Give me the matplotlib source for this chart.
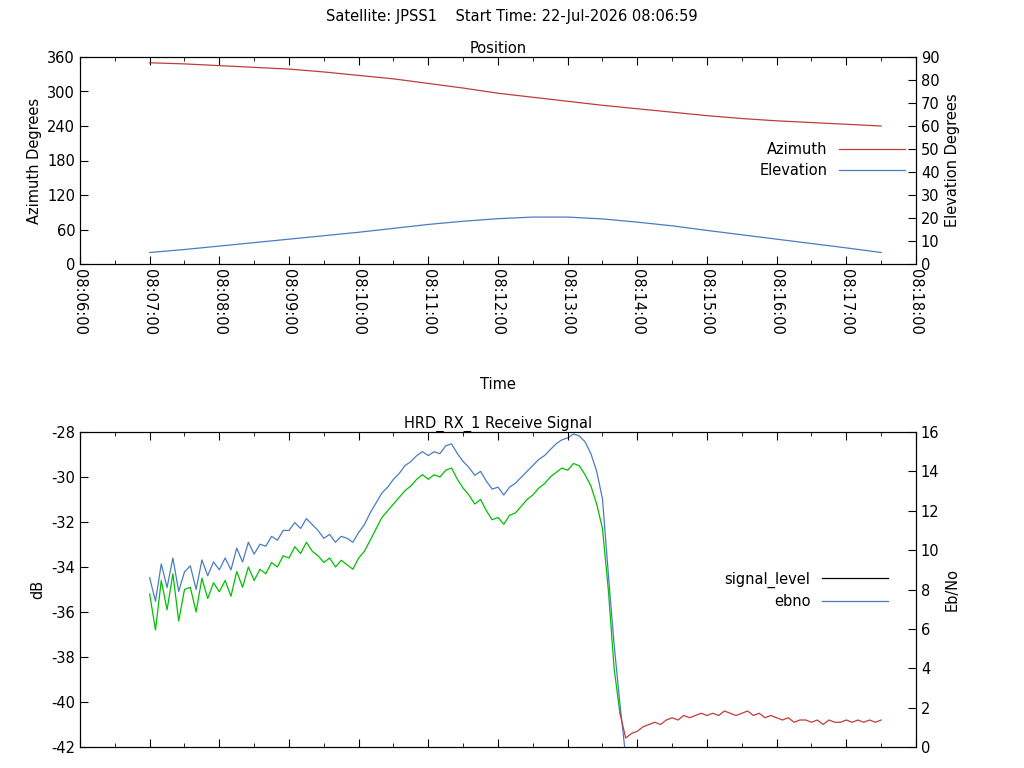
import matplotlib
matplotlib.use("Agg")
import matplotlib.pyplot as plt
import matplotlib.dates as mdates
import datetime as dt

t0 = dt.datetime(2026, 7, 22, 8, 7, 0)
pos_step_s = 30
azimuth = [350, 348, 345, 342, 339, 334, 328, 322, 314, 306, 297, 290, 283, 276,
           270, 264, 258, 253, 249, 246, 243, 240]
elevation = [5.0, 6.3, 7.8, 9.3, 10.8, 12.3, 13.8, 15.5, 17.2, 18.6, 19.7, 20.4,
             20.4, 19.6, 18.2, 16.6, 14.6, 12.7, 10.8, 8.9, 7.0, 5.0]

sig_step_s = 5
signal_level = [
    -35.2, -36.8, -34.6, -35.9, -34.3, -36.4, -35.0, -34.9, -36.0, -34.5, -35.4, -34.7, -35.1,
    -34.6, -35.3, -34.2, -34.9, -34.0, -34.6, -34.1, -34.3, -33.8, -34.0, -33.5, -33.6,
    -33.1, -33.4, -32.9, -33.3, -33.5, -33.8, -33.6, -34.0, -33.7, -33.9, -34.1, -33.6,
    -33.3, -32.8, -32.3, -31.8, -31.5, -31.2, -30.9, -30.6, -30.4, -30.1, -29.9, -30.1,
    -29.9, -30.0, -29.7, -29.6, -30.1, -30.5, -30.8, -31.2, -31.0, -31.5, -31.9, -31.8,
    -32.1, -31.7, -31.6, -31.3, -31.0, -30.8, -30.5, -30.3, -30.0, -29.8, -29.6, -29.7,
    -29.4, -29.5, -29.9, -30.4, -31.2, -32.3, -35.0, -38.5, -40.5, -41.6, -41.4, -41.3,
    -41.1, -41.0, -40.9, -41.0, -40.8, -40.7, -40.8, -40.6, -40.7, -40.6, -40.5, -40.6,
    -40.5, -40.6, -40.4, -40.5, -40.6, -40.5, -40.4, -40.6, -40.5, -40.7, -40.6, -40.7,
    -40.8, -40.7, -40.9, -40.8, -40.8, -40.9, -40.8, -41.0, -40.8, -40.9, -40.9, -40.8,
    -40.9, -40.8, -40.9, -40.8, -40.9, -40.8]
lock_count = 82  # samples drawn green (locked), the rest red
ebno = [
    8.6, 7.4, 9.3, 8.1, 9.6, 7.9, 8.9, 9.2, 8.0, 9.5, 8.7, 9.4, 9.0,
    9.6, 9.0, 10.1, 9.4, 10.4, 9.8, 10.3, 10.2, 10.7, 10.5, 11.0, 11.0,
    11.4, 11.1, 11.6, 11.3, 11.0, 10.6, 10.8, 10.4, 10.7, 10.6, 10.4, 10.9,
    11.3, 11.9, 12.4, 12.9, 13.2, 13.6, 13.9, 14.3, 14.5, 14.8, 15.0, 14.8,
    15.0, 14.9, 15.3, 15.4, 14.9, 14.5, 14.2, 13.8, 14.0, 13.5, 13.1, 13.2,
    12.8, 13.2, 13.4, 13.7, 14.0, 14.3, 14.6, 14.8, 15.1, 15.4, 15.6, 15.7,
    15.9, 15.8, 15.5, 14.9, 14.0, 12.6, 8.8, 5.2, 2.2, -0.5]

pos_t = [t0 + dt.timedelta(seconds=i * pos_step_s) for i in range(len(azimuth))]
sig_t = [t0 + dt.timedelta(seconds=i * sig_step_s) for i in range(len(signal_level))]
eb_t = [t0 + dt.timedelta(seconds=i * sig_step_s) for i in range(len(ebno))]

xmin = dt.datetime(2026, 7, 22, 8, 6, 0)
xmax = dt.datetime(2026, 7, 22, 8, 18, 0)

RED = "#c03c3c"
BLUE = "#4a7cc0"
GREEN = "#00c000"
plt.rcParams["font.family"] = "DejaVu Sans"
plt.rcParams["font.size"] = 10.5
plt.rcParams["axes.unicode_minus"] = False

fig = plt.figure(figsize=(10.24, 7.68), dpi=100)
W, H = 1024, 768
def rect(l, t, r, b):
    return [l / W, 1 - b / H, (r - l) / W, (b - t) / H]

fig.text(0.5, 1 - 17 / H, "Satellite: JPSS1    Start Time: 22-Jul-2026 08:06:59",
         ha="center", va="center", fontsize=10.5)

def style(ax):
    ax.tick_params(direction="in", which="both", top=True, length=6)
    ax.tick_params(which="minor", length=3)

# Top plot
ax1 = fig.add_axes(rect(80, 57, 916, 264))
ax1b = ax1.twinx()
l1, = ax1.plot(pos_t, azimuth, color=RED, lw=0.9)
l2, = ax1b.plot(pos_t, elevation, color=BLUE, lw=0.9)
ax1.set_xlim(xmin, xmax)
ax1.set_ylim(0, 360)
ax1.set_yticks(range(0, 361, 60))
ax1b.set_ylim(0, 90)
ax1b.set_yticks(range(0, 91, 10))
ax1.xaxis.set_major_locator(mdates.MinuteLocator())
ax1.xaxis.set_minor_locator(mdates.SecondLocator(bysecond=[30]))
ax1.xaxis.set_major_formatter(mdates.DateFormatter("%H:%M:%S"))
for lab in ax1.get_xticklabels():
    lab.set_rotation(-90)
ax1.set_title("Position", fontsize=10.5, pad=3)
ax1.set_ylabel("Azimuth Degrees")
ax1b.set_ylabel("Elevation Degrees")
ax1.set_xlabel("Time", labelpad=30)
style(ax1); ax1b.tick_params(direction="in", length=6)
ax1.legend([l1, l2], ["Azimuth", "Elevation"], frameon=False, markerfirst=False,
           loc="upper right", bbox_to_anchor=(0.995, 0.625), handlelength=4.5,
           fontsize=10.5, labelspacing=0.45, borderpad=0)

# Bottom plot
ax2 = fig.add_axes(rect(80, 432, 916, 747))
ax2b = ax2.twinx()
ax2b.plot(eb_t, ebno, color=BLUE, lw=0.9)
ax2.plot(sig_t[:lock_count], signal_level[:lock_count], color=GREEN, lw=0.9, zorder=3)
ax2.plot(sig_t[lock_count - 1:], signal_level[lock_count - 1:], color=RED, lw=0.9, zorder=3)
ax2.set_zorder(ax2b.get_zorder() + 1)
ax2.patch.set_visible(False)
ax2.set_xlim(xmin, xmax)
ax2.set_ylim(-42, -28)
ax2.set_yticks(range(-42, -27, 2))
ax2b.set_ylim(0, 16)
ax2b.set_yticks(range(0, 17, 2))
ax2.xaxis.set_major_locator(mdates.MinuteLocator())
ax2.xaxis.set_minor_locator(mdates.SecondLocator(bysecond=[30]))
ax2.set_xticklabels([])
ax2.set_title("HRD_RX_1 Receive Signal", fontsize=10.5, pad=3)
ax2.set_ylabel("dB")
ax2b.set_ylabel("Eb/No")
style(ax2); ax2b.tick_params(direction="in", length=6)
h1, = ax2.plot([], [], color="black", lw=0.9)
h2, = ax2.plot([], [], color=BLUE, lw=0.9)
ax2.legend([h1, h2], ["signal_level", "ebno"], frameon=False, markerfirst=False,
           loc="upper right", bbox_to_anchor=(0.975, 0.58), handlelength=4.5,
           fontsize=10.5, labelspacing=0.45, borderpad=0)

fig.savefig("out.png", dpi=100)
